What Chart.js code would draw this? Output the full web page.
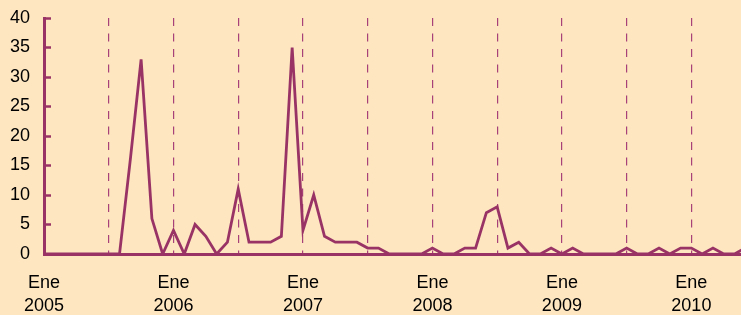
<!DOCTYPE html>
<html>
<head>
<meta charset="utf-8">
<script src="https://cdn.jsdelivr.net/npm/chart.js@4/dist/chart.umd.min.js"></script>
<style>
  html, body { margin: 0; padding: 0; background: #FDE6C0; }
  #wrap { width: 741px; height: 315px; position: relative; }
</style>
</head>
<body>
<div id="wrap"><canvas id="c"></canvas></div>
<script>
// Months counted from January 2005 (index 0)
const monthNames = ['Ene','Feb','Mar','Abr','May','Jun','Jul','Ago','Sep','Oct','Nov','Dic'];
const startYear = 2005;
const values2005 = [0, 0, 0, 0, 0, 0, 0, 0, 16, 33, 6, 0];
const values2006 = [4, 0, 5, 3, 0, 2, 11, 2, 2, 2, 3, 35];
const values2007 = [4, 10, 3, 2, 2, 2, 1, 1, 0, 0, 0, 0];
const values2008 = [1, 0, 0, 1, 1, 7, 8, 1, 2, 0, 0, 1];
const values2009 = [0, 1, 0, 0, 0, 0, 1, 0, 0, 1, 0, 1];
const values2010 = [1, 0, 1, 0, 0, 1];
const yTicks = [0, 5, 10, 15, 20, 25, 30, 35, 40];
const xTicks = [0, 6, 12, 18, 24, 30, 36, 42, 48, 54, 60];

const allValues = [].concat(values2005, values2006, values2007, values2008, values2009, values2010);
const points = allValues.map((v, i) => ({ x: i, y: v }));

const purple = '#993366';
const dashColor = '#A8407A';

new Chart(document.getElementById('c'), {
  type: 'line',
  data: {
    datasets: [{
      data: points,
      borderColor: purple,
      borderWidth: 2.8,
      pointRadius: 0,
      tension: 0,
      fill: false
    }]
  },
  options: {
    responsive: true,
    maintainAspectRatio: false,
    animation: false,
    layout: { padding: { top: 18, right: 0, left: 0, bottom: 0 } },
    plugins: { legend: { display: false }, tooltip: { enabled: false } },
    scales: {
      x: {
        type: 'linear',
        min: 0,
        max: 64.6,
        afterBuildTicks: (s) => { s.ticks = xTicks.map(v => ({ value: v })); },
        afterFit: (s) => { s.height = 61; s.paddingLeft = 0; s.paddingRight = 0; },
        ticks: {
          autoSkip: false,
          maxRotation: 0,
          padding: 17,
          color: '#000',
          font: { family: 'Liberation Sans, Arial, sans-serif', size: 18, lineHeight: 1.3 },
          callback: (v) => (v % 12 === 0) ? [monthNames[0], String(startYear + v / 12)] : ''
        },
        grid: {
          drawTicks: false,
          color: (ctx) => (ctx.tick && ctx.tick.value !== 0 && ctx.tick.value % 6 === 0) ? dashColor : 'rgba(0,0,0,0)',
          lineWidth: 1.2
        },
        border: { display: true, color: purple, width: 3, dash: [8, 7.5] }
      },
      y: {
        min: 0,
        max: 40,
        afterBuildTicks: (s) => { s.ticks = yTicks.map(v => ({ value: v })); },
        afterFit: (s) => { s.width = 44; s.paddingTop = 0; s.paddingBottom = 0; },
        ticks: {
          padding: 21,
          color: '#000',
          font: { family: 'Liberation Sans, Arial, sans-serif', size: 18 }
        },
        grid: {
          drawOnChartArea: false,
          drawTicks: true,
          tickLength: -7,
          tickWidth: 2.5,
          tickColor: purple,
          color: purple
        },
        border: { display: true, color: purple, width: 3 }
      }
    }
  }
});
</script>
</body>
</html>
